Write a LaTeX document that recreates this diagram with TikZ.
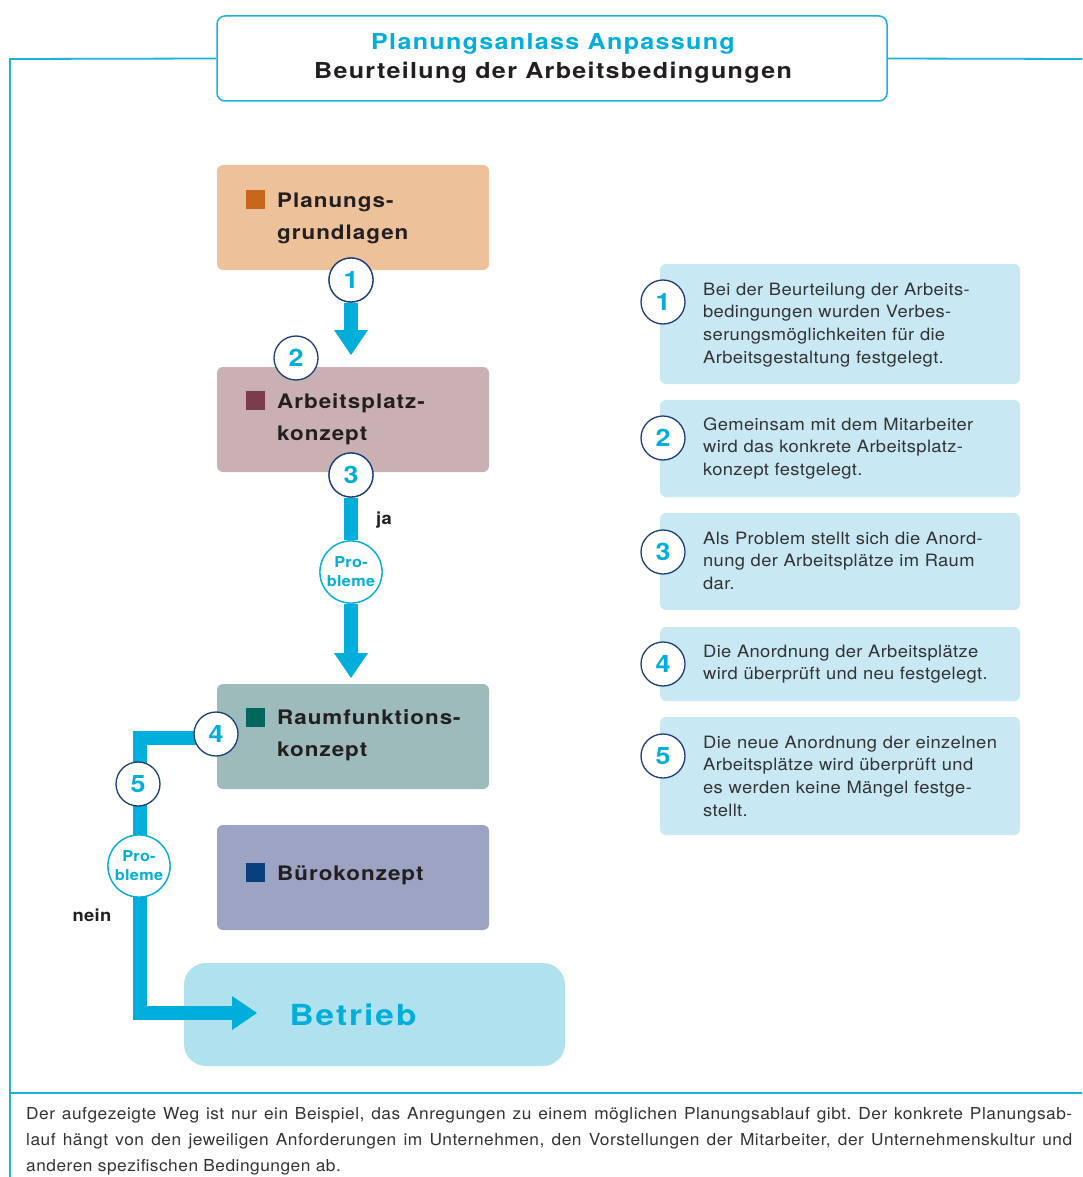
\documentclass[tikz,border=0pt]{standalone}
\usepackage{fontspec}
\setmainfont{TeX Gyre Heros}
\newfontfamily\fTitle{TeX Gyre Heros}[FakeStretch=1.14,LetterSpace=6]
\newfontfamily\fLabel{TeX Gyre Heros}[FakeStretch=1.12,LetterSpace=5]
\newfontfamily\fBig{TeX Gyre Heros}[FakeStretch=1.15,LetterSpace=7]
\newfontfamily\fText{TeX Gyre Heros}[FakeStretch=1.08,LetterSpace=2]
\newfontfamily\fFoot{TeX Gyre Heros}[FakeStretch=1.05,LetterSpace=3]
\usetikzlibrary{arrows.meta}
\definecolor{cy}{HTML}{00AEDB}
\definecolor{frm}{HTML}{1CB2E0}
\definecolor{dk}{HTML}{231F20}
\definecolor{gr}{HTML}{333333}
\definecolor{navy}{HTML}{1B3F7A}
\definecolor{bxa}{HTML}{EDC29B}
\definecolor{mka}{HTML}{C8661E}
\definecolor{bxb}{HTML}{C9B0B3}
\definecolor{mkb}{HTML}{7A3B4B}
\definecolor{bxc}{HTML}{9DBBBB}
\definecolor{mkc}{HTML}{00665E}
\definecolor{bxd}{HTML}{9DA3C3}
\definecolor{mkd}{HTML}{0A3F7E}
\definecolor{bet}{HTML}{B0E1EF}
\definecolor{rbx}{HTML}{C8E8F3}
\tikzset{
  frameline/.style={draw=frm, line width=1.8pt},
  conbox/.style={rectangle, rounded corners=6pt, minimum width=272pt, minimum height=105pt, inner sep=0pt},
  marker/.style={rectangle, minimum size=19pt, inner sep=0pt},
  lbl/.style={anchor=base west, inner sep=0pt, text width=210pt, align=left, text=dk,
              font=\fLabel\bfseries\fontsize{20}{32}\selectfont},
  numc/.style={circle, draw=navy, line width=1.3pt, fill=white, minimum size=44pt, inner sep=0pt,
               text=cy, font=\fLabel\bfseries\fontsize{24}{24}\selectfont},
  probc/.style={circle, draw=cy, line width=1.3pt, fill=white, minimum size=62pt, inner sep=0pt,
               text=cy, align=center, font=\fText\bfseries\fontsize{15}{19}\selectfont},
  flow/.style={draw=cy, line width=14pt, line join=miter,
               -{Triangle[width=34pt,length=25pt,line width=0pt]}},
  rbox/.style={rectangle, fill=rbx, rounded corners=6pt, minimum width=360pt, inner sep=0pt},
  rtext/.style={anchor=base west, inner sep=0pt, text width=310pt, align=left, text=gr,
               font=\fText\fontsize{17}{22.7}\selectfont},
}
\begin{document}
\frenchspacing
\begin{tikzpicture}[x=1pt,y=-1pt]
\useasboundingbox (0,0) rectangle (1082,1177);
% title box and frame
\node[draw=frm, line width=1.5pt, rounded corners=8pt, fill=white, minimum width=670pt, minimum height=85pt, inner sep=0pt] (tb) at (552,58.5) {};
\node[anchor=base, inner sep=0pt, text=cy, font=\fTitle\bfseries\fontsize{22}{26}\selectfont] (t1) at (553,50) {Planungsanlass Anpassung};
\node[anchor=base, inner sep=0pt, text=dk, font=\fTitle\bfseries\fontsize{22}{26}\selectfont] (t2) at (553,78.5) {Beurteilung der Arbeitsbedingungen};
\coordinate (fl) at (10,59);
\coordinate (flb) at (10,1177);
\coordinate (fr) at (1082,59);
\coordinate (bl) at (10,1093);
\coordinate (br) at (1082,1093);
\draw[frameline] (tb.west) -- (fl) -- (flb);
\draw[frameline] (tb.east) -- (fr);
\draw[frameline] (bl) -- (br);

% concept boxes
\node[conbox, fill=bxa] (ba) at (353,217.5) {};
\node[conbox, fill=bxb] (bb) at (353,419.5) {};
\node[conbox, fill=bxc] (bc) at (353,736.5) {};
\node[conbox, fill=bxd] (bd) at (353,877.5) {};
\node[marker, fill=mka] (ma) at (255.5,199.5) {};
\node[marker, fill=mkb] (mb) at (255.5,400.5) {};
\node[marker, fill=mkc] (mc) at (255.5,717.5) {};
\node[marker, fill=mkd] (md) at (255.5,872.5) {};
\node[lbl] (la) at (277,207.5) {Planungs-\\grundlagen};
\node[lbl] (lb) at (277,408.5) {Arbeitsplatz-\\konzept};
\node[lbl] (lc) at (277,724.5) {Raumfunktions-\\konzept};
\node[lbl] (ld) at (277,880.5) {Bürokonzept};

% Betrieb
\node[rectangle, fill=bet, rounded corners=22pt, minimum width=381pt, minimum height=103pt, inner sep=0pt] (be) at (374.5,1014.5) {};
\node[anchor=base, inner sep=0pt, text=cy, font=\fBig\bfseries\fontsize{29}{30}\selectfont] (bet) at (353,1025) {Betrieb};

% positions
\coordinate (pc1) at (351,280);
\coordinate (pc3) at (351,475);
\coordinate (tipa) at (351,355);
\coordinate (tipb) at (351,678);
\coordinate (s4) at (216,738);
\coordinate (k1) at (140,738);
\coordinate (k2) at (140,1013);
\coordinate (tipc) at (257,1013);

\node[probc] (p1) at (351,572) {Pro-\\bleme};
\node[probc] (p2) at (139,866) {Pro-\\bleme};
\node[numc] (c1) at (pc1) {1};
\node[numc] (c3) at (pc3) {3};

% flows
\draw[flow] (c1.south) -- (tipa);
\draw[draw=cy, line width=14pt] (c3.south) -- (p1.north);
\draw[flow] (p1.south) -- (tipb);
\draw[flow] (s4) -- (k1) -- (k2) -- (tipc);

% circles on top
\node[probc] at (p1) {Pro-\\bleme};
\node[probc] at (p2) {Pro-\\bleme};
\node[numc] at (c1) {1};
\node[numc] (c2) at (296,358) {2};
\node[numc] at (c3) {3};
\node[numc] (c4) at (216,734) {4};
\node[numc] (c5) at (138,784) {5};

\node[anchor=base west, inner sep=0pt, text=dk, font=\fText\bfseries\fontsize{17}{20}\selectfont] (ja) at (376,524) {ja};
\node[anchor=base, inner sep=0pt, text=dk, font=\fText\bfseries\fontsize{17}{20}\selectfont] (nein) at (92,921) {nein};

% right explanation boxes
\node[rbox, minimum height=120pt] (ra) at (840,324) {};
\node[rbox, minimum height=97pt] (rb) at (840,448.5) {};
\node[rbox, minimum height=97pt] (rc) at (840,561.5) {};
\node[rbox, minimum height=74pt] (rd) at (840,664) {};
\node[rbox, minimum height=118pt] (re) at (840,776) {};
\node[numc] (na) at (663,302) {1};
\node[numc] (nb) at (663,438) {2};
\node[numc] (nc) at (663,552) {3};
\node[numc] (nd) at (663,664) {4};
\node[numc] (ne) at (663,756) {5};
\node[rtext] (ta) at (703,295) {Bei der Beurteilung der Arbeits-\\bedingungen wurden Verbes-\\serungsmöglichkeiten für die\\Arbeitsgestaltung festgelegt.};
\node[rtext] (tbx) at (703,430) {Gemeinsam mit dem Mitarbeiter\\wird das konkrete Arbeitsplatz-\\konzept festgelegt.};
\node[rtext] (tc) at (703,544) {Als Problem stellt sich die Anord-\\nung der Arbeitsplätze im Raum\\dar.};
\node[rtext] (td) at (703,657) {Die Anordnung der Arbeitsplätze\\wird überprüft und neu festgelegt.};
\node[rtext] (te) at (703,748) {Die neue Anordnung der einzelnen\\Arbeitsplätze wird überprüft und\\es werden keine Mängel festge-\\stellt.};

% footnote
\node[anchor=base west, inner sep=0pt, text width=1046pt, align=justify, text=gr,
      font=\fFoot\fontsize{16.5}{26}\selectfont] (foot) at (26,1119)
 {Der aufgezeigte Weg ist nur ein Beispiel, das Anregungen zu einem möglichen Planungsablauf gibt. Der konkrete Planungsab-\linebreak lauf hängt von den jeweiligen Anforderungen im Unternehmen, den Vorstellungen der Mitarbeiter, der Unternehmenskultur und\linebreak anderen spezifischen Bedingungen ab.};
\end{tikzpicture}
\end{document}
